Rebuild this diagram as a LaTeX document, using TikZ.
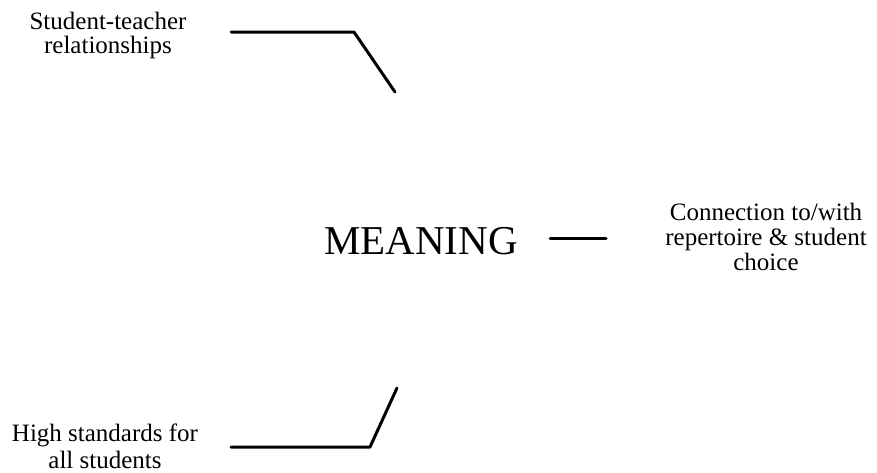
\documentclass[tikz,border=0pt]{standalone}
\usepackage{fontspec}
\setmainfont{Liberation Serif}
\begin{document}
\begin{tikzpicture}[x=1pt,y=-1pt,
  lbl/.style={align=center,inner sep=0pt,font=\fontsize{25}{25}\selectfont},
  big/.style={inner sep=0pt,font=\fontsize{41}{41}\selectfont},
  conn/.style={line width=3pt,line cap=round,line join=round}]
\useasboundingbox[fill=white] (0,0) rectangle (877,472);
\node[lbl] (st) at (108,35) {Student-teacher\\[-1pt]relationships};
\node[lbl] (cr) at (766,237) {Connection to/with\\repertoire \& student\\choice};
\node[lbl] (hs) at (105,446) {High standards for\\[2pt]all students};
\node[big,anchor=base] (mn) at (421,254) {MEANING};
\coordinate (t1) at (231,32);
\coordinate (t2) at (354,32);
\coordinate (t3) at (395,92);
\coordinate (b1) at (231,447);
\coordinate (b2) at (370,447);
\coordinate (b3) at (397,388);
\coordinate (m1) at (550,238);
\coordinate (m2) at (606,238);
\draw[conn] (t1) -- (t2) -- (t3);
\draw[conn] (b1) -- (b2) -- (b3);
\draw[conn] (m1) -- (m2);
\end{tikzpicture}
\end{document}
